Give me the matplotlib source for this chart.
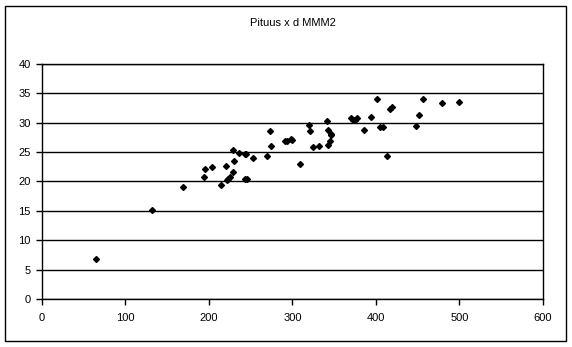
import matplotlib
matplotlib.use('Agg')
import matplotlib.pyplot as plt
from matplotlib.patches import Rectangle

plt.rcParams['font.family'] = ['Liberation Sans', 'DejaVu Sans']

# ========== data ==========
pituus = [65, 132, 169, 194, 195, 204, 214, 220, 222, 223, 225, 229, 229, 230,
          236, 243, 244, 243, 245, 253, 269, 273, 274, 291, 293, 298, 299, 309,
          320, 321, 324, 332, 341, 343, 343, 345, 346, 346, 370, 373, 375, 375,
          377, 386, 394, 401, 405, 408, 413, 417, 419, 448, 452, 456, 479, 500]
d_mmm2 = [6.8, 15.2, 19.0, 20.7, 22.1, 22.4, 19.4, 22.6, 20.2, 20.5, 20.8, 25.3,
          21.7, 23.5, 24.8, 24.7, 24.7, 20.4, 20.4, 24.0, 24.3, 28.6, 26.0, 26.9,
          26.9, 27.2, 27.0, 22.9, 29.6, 28.6, 25.8, 26.0, 30.3, 28.8, 26.2, 26.9,
          28.0, 27.9, 30.8, 30.5, 30.4, 30.5, 30.8, 28.7, 30.9, 34.0, 29.3, 29.3,
          24.3, 32.3, 32.6, 29.4, 31.4, 34.0, 33.3, 33.5]
x_ticks = [0, 100, 200, 300, 400, 500, 600]
y_ticks = [0, 5, 10, 15, 20, 25, 30, 35, 40]

fig = plt.figure(figsize=(5.72, 3.47), dpi=100)
ax = fig.add_axes([0.0734, 0.1383, 0.8759, 0.6773])

ax.plot(pituus, d_mmm2, linestyle='none', marker='D', markersize=3,
        color='black', zorder=3)

ax.set_xlim(0, 600)
ax.set_ylim(0, 40)
ax.set_xticks(x_ticks)
ax.set_yticks(y_ticks)
ax.yaxis.grid(True, color='black', linewidth=1)
ax.set_axisbelow(True)
for s in ax.spines.values():
    s.set_linewidth(1)
    s.set_color('black')
ax.tick_params(direction='out', length=4, width=1, labelsize=8)
ax.tick_params(axis='x', pad=6)
ax.tick_params(axis='y', pad=4)

ax.set_title('Pituus x d MMM2', fontsize=8, pad=27)

# outer chart border
fig.patches.append(Rectangle((5 / 572, 6 / 347), 561 / 572, 335 / 347,
                             transform=fig.transFigure, fill=False,
                             edgecolor='black', linewidth=1))

fig.savefig('out.png', dpi=100)
